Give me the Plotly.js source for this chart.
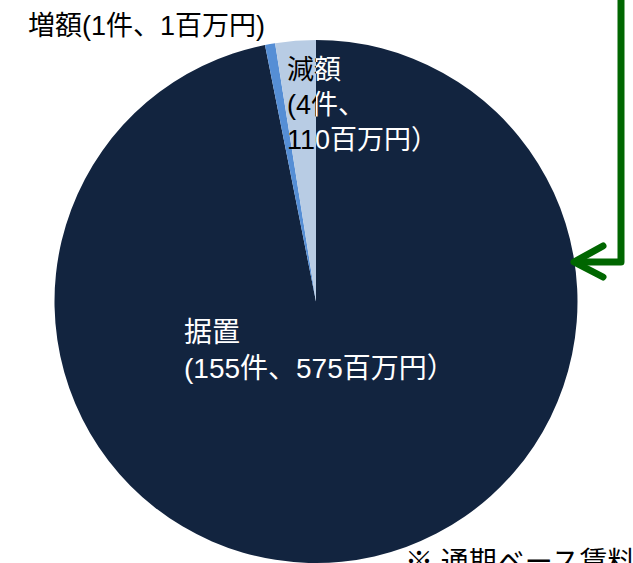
<!DOCTYPE html>
<html>
<head>
<meta charset="utf-8">
<script src="https://cdn.plot.ly/plotly-3.0.1.min.js"></script>
<style>html,body{margin:0;padding:0;background:#fff;}#chart{width:633px;height:563px;}</style>
</head>
<body>
<div id="chart"></div>
<script>
// data (clockwise from 12 o'clock)
const categories = ['据置', '増額', '減額'];
const counts = [155, 1, 4];          // 件
const amounts = [575, 1, 110];       // 百万円
const sliceColors = ['#12243F', '#558ED5', '#B8CCE4'];
const noteText = '※ 通期ベース賃料';

const W = 633, H = 563;
const px = x => x / W;
const py = y => 1 - y / H;
const FONT = 'Liberation Sans, Arial, Noto Sans CJK JP, sans-serif';

const pie = {
  type: 'pie',
  labels: categories,
  values: counts,
  sort: false,
  direction: 'clockwise',
  rotation: 0,
  marker: {colors: sliceColors, line: {width: 0}},
  textinfo: 'none',
  hoverinfo: 'none',
  showlegend: false,
  domain: {x: [px(54), px(578)], y: [0, py(40)]}
};

const iUp = 1, iDown = 2, iKeep = 0;
const downText = categories[iDown] + '<br>(' + counts[iDown] + '件、<br>' + amounts[iDown] + '百万円）';

const annotations = [
  // 増額 label (outside, top-left)
  {text: categories[iUp] + '(' + counts[iUp] + '件、' + amounts[iUp] + '百万円)', x: px(26), y: py(26),
   xanchor: 'left', yanchor: 'middle', font: {size: 27, color: '#000', family: FONT}},
  // 減額 label, black part (clipped to light slice)
  {text: downText, x: px(285), y: py(105), xanchor: 'left', yanchor: 'middle', align: 'left',
   font: {size: 27, color: '#000', family: FONT}},
  // 減額 label, white part (clipped to dark slice)
  {text: downText, x: px(285), y: py(105), xanchor: 'left', yanchor: 'middle', align: 'left',
   font: {size: 27, color: '#fff', family: FONT}},
  // 据置 label
  {text: categories[iKeep] + '<br>(' + counts[iKeep] + '件、' + amounts[iKeep] + '百万円）', x: px(182), y: py(350),
   xanchor: 'left', yanchor: 'middle', align: 'left', font: {size: 28, color: '#fff', family: FONT}},
  // bottom note (cropped by the figure edge, as in the reference)
  {text: noteText, x: px(403), y: py(545), xanchor: 'left', yanchor: 'top', align: 'left',
   font: {size: 28, color: '#000', family: FONT}}
].map(a => Object.assign({xref: 'paper', yref: 'paper', showarrow: false}, a));

const green = '#006600';
const shapes = [
  {type: 'path', path: `M ${px(621)} ${py(-5)} L ${px(621)} ${py(262)} L ${px(576)} ${py(262)}`},
  {type: 'path', path: `M ${px(603)} ${py(246)} L ${px(574)} ${py(262)} L ${px(603)} ${py(277)}`}
].map(s => Object.assign({xref: 'paper', yref: 'paper', line: {color: green, width: 7}}, s));

const layout = {
  width: W, height: H,
  margin: {l: 0, r: 0, t: 0, b: 0},
  paper_bgcolor: '#fff',
  showlegend: false,
  annotations: annotations,
  shapes: shapes,
  font: {family: FONT}
};

Plotly.newPlot('chart', [pie], layout, {displayModeBar: false, staticPlot: true}).then(gd => {
  const svg = gd.querySelector('svg.main-svg');
  const NS = 'http://www.w3.org/2000/svg';
  let defs = svg.querySelector('defs');
  if (!defs) { defs = document.createElementNS(NS, 'defs'); svg.insertBefore(defs, svg.firstChild); }
  const mk = (id, x, w) => {
    const cp = document.createElementNS(NS, 'clipPath');
    cp.setAttribute('id', id);
    cp.setAttribute('clipPathUnits', 'userSpaceOnUse');
    const r = document.createElementNS(NS, 'rect');
    r.setAttribute('x', x); r.setAttribute('y', 0); r.setAttribute('width', w); r.setAttribute('height', H);
    cp.appendChild(r); defs.appendChild(cp);
  };
  mk('clipLeft', 0, 316);
  mk('clipRight', 316, W);
  gd.querySelectorAll('g.annotation').forEach(g => {
    const idx = g.getAttribute('data-index');
    if (idx === '1') g.setAttribute('clip-path', 'url(#clipLeft)');
    if (idx === '2') g.setAttribute('clip-path', 'url(#clipRight)');
  });
  gd.querySelectorAll('.shapelayer path').forEach(p => {
    p.style.strokeLinecap = 'round';
    p.style.strokeLinejoin = 'round';
  });
});
</script>
</body>
</html>
